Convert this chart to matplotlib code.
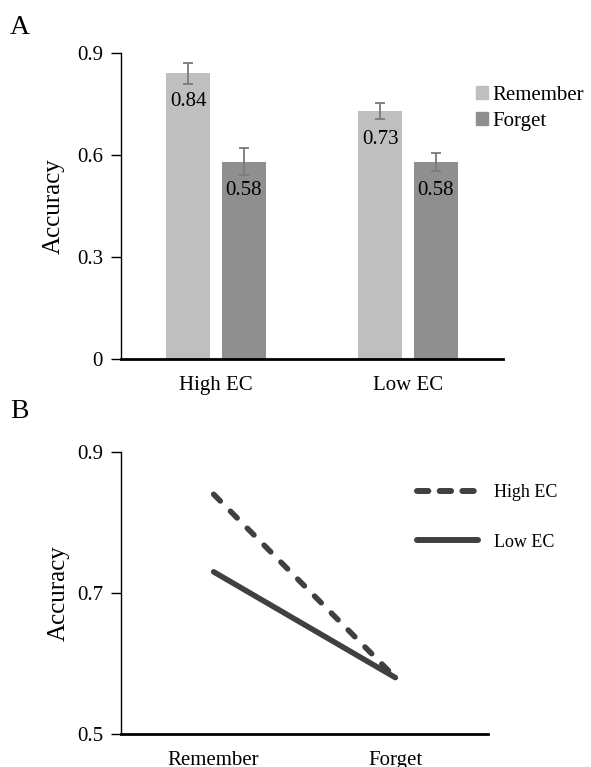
import matplotlib
matplotlib.use("Agg")
import matplotlib.pyplot as plt
import numpy as np
from matplotlib.lines import Line2D
from matplotlib.patches import Patch

plt.rcParams['font.family'] = ['Liberation Serif', 'DejaVu Serif']

# ---- data ----
groups = ["High EC", "Low EC"]
conditions = ["Remember", "Forget"]
remember_vals = [0.84, 0.73]
forget_vals = [0.58, 0.58]
remember_err = [0.03, 0.023]
forget_err = [0.04, 0.027]
yticks_a = [0, 0.3, 0.6, 0.9]
ytick_labels_a = ["0", "0.3", "0.6", "0.9"]

high_ec_line = [0.84, 0.58]
low_ec_line = [0.73, 0.58]
yticks_b = [0.5, 0.7, 0.9]
ytick_labels_b = ["0.5", "0.7", "0.9"]

c_rem = "#bfbfbf"
c_for = "#8f8f8f"
c_err = "#7a7a7a"
c_line = "#404040"

W, H = 591, 767
fig = plt.figure(figsize=(W / 100, H / 100), dpi=100)

# ---- Panel A ----
axA = fig.add_axes([121 / W, 1 - 359 / H, (503 - 121) / W, (359 - 53) / H])
x = np.arange(len(groups))
bw = 0.229
off = bw / 2 + 0.029
axA.bar(x - off, remember_vals, bw, color=c_rem, label="Remember", zorder=2)
axA.bar(x + off, forget_vals, bw, color=c_for, label="Forget", zorder=2)
axA.errorbar(x - off, remember_vals, yerr=remember_err, fmt="none", ecolor=c_err,
             elinewidth=1.3, capsize=3.5, capthick=1.3, zorder=3)
axA.errorbar(x + off, forget_vals, yerr=forget_err, fmt="none", ecolor=c_err,
             elinewidth=1.3, capsize=3.5, capthick=1.3, zorder=3)
for xi, v in zip(x - off, remember_vals):
    axA.annotate(f"{v:.2f}", (xi, v), xytext=(0, -13.5), textcoords="offset points",
                 ha="center", va="top", fontsize=15, zorder=4)
for xi, v in zip(x + off, forget_vals):
    axA.annotate(f"{v:.2f}", (xi, v), xytext=(0, -13.5), textcoords="offset points",
                 ha="center", va="top", fontsize=15, zorder=4)
axA.set_xlim(-0.495, 1.495)
axA.set_ylim(0, 0.9)
axA.set_yticks(yticks_a)
axA.set_yticklabels(ytick_labels_a, fontsize=15)
axA.set_xticks(x)
axA.set_xticklabels(groups, fontsize=15)
axA.tick_params(axis="x", length=0, pad=12)
axA.tick_params(axis="y", length=7, width=1, pad=6, direction="out")
axA.spines["top"].set_visible(False)
axA.spines["right"].set_visible(False)
axA.spines["left"].set_linewidth(1.0)
axA.spines["bottom"].set_linewidth(2.0)
axA.set_ylabel("Accuracy", fontsize=18, labelpad=9)
axA.legend(handles=[Patch(color=c_rem, label="Remember"), Patch(color=c_for, label="Forget")],
           loc="upper left", bbox_to_anchor=(0.93, 0.893), frameon=False, fontsize=15,
           handlelength=0.55, handleheight=0.55, handletextpad=0.2, labelspacing=0.35,
           borderaxespad=0, borderpad=0)
fig.text(10 / W, 1 - 28 / H, "A", fontsize=20, va="center", ha="left")

# ---- Panel B ----
axB = fig.add_axes([121 / W, 1 - 734 / H, (488 - 121) / W, (734 - 452) / H])
xb = np.arange(len(conditions))
dash_plot = (0, (1.7, 2.6))
dash_leg = (0, (1.9, 1.9))
axB.plot(xb, high_ec_line, color=c_line, lw=4.0, ls=dash_plot, label="High EC",
         solid_capstyle="round", dash_capstyle="round")
axB.plot(xb, low_ec_line, color=c_line, lw=4.0, ls="-", label="Low EC",
         solid_capstyle="round")
axB.set_xlim(-0.51, 1.51)
axB.set_ylim(0.5, 0.9)
axB.set_yticks(yticks_b)
axB.set_yticklabels(ytick_labels_b, fontsize=15)
axB.set_xticks(xb)
axB.set_xticklabels(conditions, fontsize=15)
axB.tick_params(axis="x", length=0, pad=12)
axB.tick_params(axis="y", length=7, width=1, pad=6, direction="out")
axB.spines["top"].set_visible(False)
axB.spines["right"].set_visible(False)
axB.spines["left"].set_linewidth(1.0)
axB.spines["bottom"].set_linewidth(2.0)
axB.set_ylabel("Accuracy", fontsize=18, labelpad=5)
fig.legend(handles=[Line2D([], [], color=c_line, lw=4.3, ls=dash_leg, label="High EC",
                           dash_capstyle="round", solid_capstyle="round"),
                    Line2D([], [], color=c_line, lw=4.3, ls="-", label="Low EC",
                           solid_capstyle="round")],
           loc="center left", bbox_to_anchor=(417 / W, 1 - 517.5 / H), frameon=False, fontsize=13,
           handlelength=3.4, handletextpad=0.85, labelspacing=1.8, borderaxespad=0, borderpad=0)
fig.text(10 / W, 1 - 412 / H, "B", fontsize=20, va="center", ha="left")

fig.savefig("out.png", dpi=100)
